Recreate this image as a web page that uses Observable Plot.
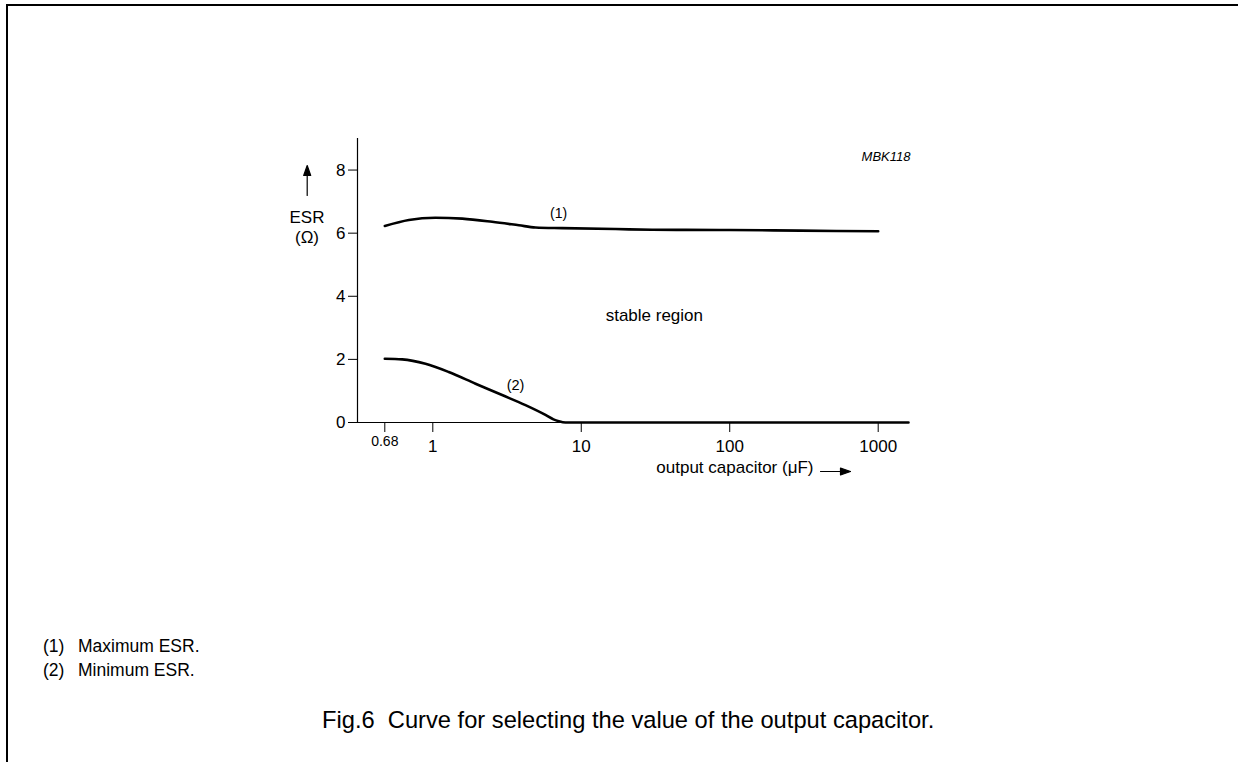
<!DOCTYPE html>
<html>
<head>
<meta charset="utf-8">
<script src="https://cdn.jsdelivr.net/npm/d3@7"></script>
<script src="https://cdn.jsdelivr.net/npm/@observablehq/plot@0.6"></script>
<style>
  html, body { margin: 0; padding: 0; width: 1245px; height: 762px; overflow: hidden; background: #fff; }
  body { position: relative; font-family: "Liberation Sans", Arial, Helvetica, sans-serif; color: #000; }
  #frame { position: absolute; left: 6px; top: 4px; width: 1230px; height: 800px;
           border-top: 2px solid #000; border-left: 2px solid #000; }
  #chart { position: absolute; left: 0; top: 0; }
  #notes { position: absolute; left: 43px; top: 634px; font-size: 17.5px; line-height: 24px; }
  #notes .n { display: inline-block; width: 35px; }
  #caption { position: absolute; left: 322px; top: 707px; font-size: 23.7px; white-space: nowrap; }
</style>
</head>
<body>
<div id="frame"></div>
<div id="chart"></div>
<div id="notes">
  <div><span class="n">(1)</span>Maximum ESR.</div>
  <div><span class="n">(2)</span>Minimum ESR.</div>
</div>
<div id="caption">Fig.6&nbsp;&nbsp;Curve for selecting the value of the output capacitor.</div>
<script>
// ---- data ----
const maxCap = [0.68, 0.825, 1.04, 1.58, 2.51, 3.80, 4.92, 7.44, 17, 30, 100, 300, 1000];
const maxEsr = [6.23, 6.42, 6.49, 6.46, 6.36, 6.25, 6.18, 6.16, 6.13, 6.11, 6.10, 6.08, 6.06];
const minCap = [0.68, 0.782, 0.943, 1.28, 1.94, 2.93, 4.21, 5.74, 6.5, 7.06, 7.83, 20, 100, 1000, 1600];
const minEsr = [2.02, 2.00, 1.86, 1.60, 1.23, 0.87, 0.55, 0.24, 0.10, 0.04, 0, 0, 0, 0, 0];
const xTicksMain = [1, 10, 100, 1000];
const xTicksSmall = [0.68];
const yTicks = [0, 2, 4, 6, 8];

const maxData = maxCap.map((c, i) => ({c, esr: maxEsr[i]}));
const minData = minCap.map((c, i) => ({c, esr: minEsr[i]}));

const W = 1245, H = 500, mL = 357, mR = 337, mT = 138, mB = 78;

const arrowShape = {
  draw(context, l) {
    const h = 10, w = 3.5;
    context.moveTo(0, 0);
    context.lineTo(0, -l + h);
    context.moveTo(-w, -l + h);
    context.lineTo(0, -l);
    context.lineTo(w, -l + h);
    context.closePath();
  }
};

const chart = Plot.plot({
  width: W, height: H,
  marginLeft: mL, marginRight: mR, marginTop: mT, marginBottom: mB,
  style: {fontFamily: "'Liberation Sans', Arial, Helvetica, sans-serif", fontSize: "17px", color: "#000", background: "transparent", overflow: "visible"},
  x: {type: "log", domain: [0.68, 1, 1600], range: [mL + 27.3, mL + 75.3, W - mR], label: null},
  y: {domain: [0, 9], label: null},
  marks: [
    Plot.frame({anchor: "left", strokeWidth: 1.2}),
    Plot.ruleY([0], {strokeWidth: 1.2}),
    Plot.axisY({ticks: yTicks, tickSize: 9, tickPadding: 3, fontSize: 17, tickFormat: d => String(d)}),
    Plot.axisX({ticks: xTicksMain, tickSize: 10, tickPadding: 7, fontSize: 17, tickFormat: d => String(d)}),
    Plot.axisX({ticks: xTicksSmall, tickSize: 10, tickFormat: () => ""}),
    Plot.text(xTicksSmall, {x: d => d, text: d => String(d), frameAnchor: "bottom", dy: 23, fontSize: 14}),
    Plot.line(maxData, {x: "c", y: "esr", curve: "monotone-x", strokeWidth: 2.6}),
    Plot.line(minData, {x: "c", y: "esr", curve: "monotone-x", strokeWidth: 2.6}),
    Plot.text(["(1)"], {x: 7.03, y: 6.61, fontSize: 14}),
    Plot.text(["(2)"], {x: 3.61, y: 1.19, fontSize: 14.5}),
    Plot.text(["stable region"], {x: 14.6, y: 3.39, textAnchor: "start", fontSize: 17}),
    Plot.text(["MBK118"], {frameAnchor: "top-right", dx: 2, dy: 13, textAnchor: "end", fontSize: 13, fontStyle: "italic"}),
    Plot.text(["ESR"], {frameAnchor: "top-left", dx: -50.5, dy: 72.5, textAnchor: "middle", fontSize: 17}),
    Plot.text(["(Ω)"], {frameAnchor: "top-left", dx: -50.5, dy: 92, textAnchor: "middle", fontSize: 17}),
    Plot.text(["output capacitor (μF)"], {frameAnchor: "bottom-right", dx: -95, dy: 50, textAnchor: "end", fontSize: 17}),
    Plot.vector([0], {frameAnchor: "top-left", dx: -50.3, dy: 57, length: 30, rotate: 0, anchor: "start", shape: arrowShape, stroke: "#000", fill: "#000", strokeWidth: 1.2}),
    Plot.vector([0], {frameAnchor: "bottom-right", dx: -88, dy: 49, length: 30, rotate: 90, anchor: "start", shape: arrowShape, stroke: "#000", fill: "#000", strokeWidth: 1.2})
  ]
});
document.getElementById("chart").appendChild(chart);
</script>
</body>
</html>
